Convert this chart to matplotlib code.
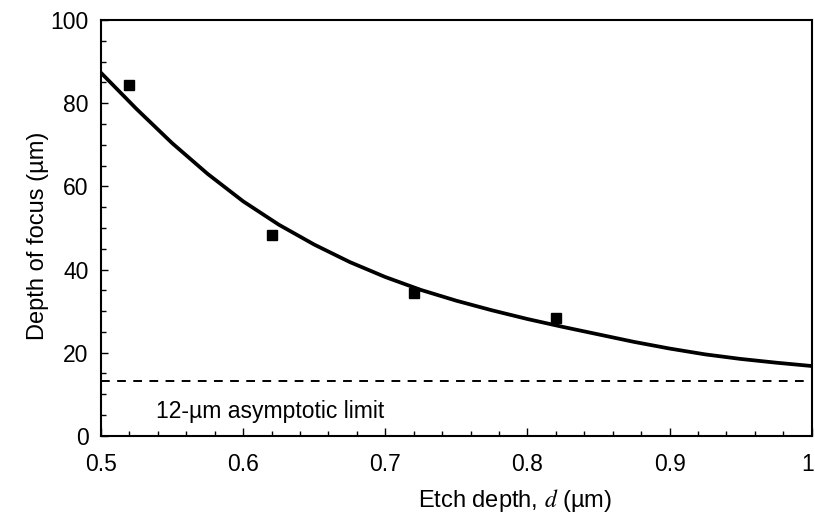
import matplotlib
matplotlib.use("Agg")
import matplotlib.pyplot as plt
from matplotlib.ticker import MultipleLocator
from matplotlib.transforms import ScaledTranslation

plt.rcParams['font.family'] = ['Liberation Sans', 'DejaVu Sans']
plt.rcParams['mathtext.fontset'] = 'stix'

# measured data points
meas_d = [0.52, 0.62, 0.72, 0.82]
meas_dof = [84.3, 48.3, 34.4, 28.4]

# theoretical curve
curve_d = [0.500, 0.525, 0.550, 0.575, 0.600, 0.625, 0.650, 0.675, 0.700,
           0.725, 0.750, 0.775, 0.800, 0.825, 0.850, 0.875, 0.900, 0.925,
           0.950, 0.975, 1.000]
curve_dof = [87.3, 78.6, 70.4, 63.0, 56.4, 50.8, 46.0, 41.8, 38.2,
             35.1, 32.5, 30.2, 28.1, 26.2, 24.4, 22.6, 21.0, 19.6,
             18.5, 17.6, 16.8]

asymptote = 13.3
asym_label = "12-\u00b5m asymptotic limit"

fig = plt.figure(figsize=(8.15, 5.14), dpi=100)
ax = fig.add_axes([0.124, 0.152, 0.872, 0.809])

ax.plot(curve_d, curve_dof, color='black', lw=2.7, solid_joinstyle='round')
ax.plot(meas_d, meas_dof, 's', color='black', markersize=7)
ax.axhline(asymptote, color='black', lw=1.4, ls=(0, (4.5, 3.8)))
ax.text(0.5385, 4.3, asym_label, fontsize=16.5, va='baseline', ha='left')

ax.set_xlim(0.5, 1.0)
ax.set_ylim(0, 100)
ax.set_xticks([0.5, 0.6, 0.7, 0.8, 0.9, 1.0])
ax.set_xticklabels(['0.5', '0.6', '0.7', '0.8', '0.9', '1'])
ax.set_yticks([0, 20, 40, 60, 80, 100])
ax.xaxis.set_minor_locator(MultipleLocator(0.02))
ax.yaxis.set_minor_locator(MultipleLocator(5))
ax.tick_params(which='both', direction='in', top=False, right=False,
               labelsize=16.5, width=1.0)
ax.tick_params(axis='y', which='major', length=5, pad=9)
ax.tick_params(axis='x', which='major', length=6, pad=12)
ax.tick_params(which='minor', length=3.5)
for s in ax.spines.values():
    s.set_linewidth(1.5)

# nudge the last x tick label so it stays inside the figure
last = ax.get_xticklabels()[-1]
last.set_transform(last.get_transform() + ScaledTranslation(-3 / 72, 0, fig.dpi_scale_trans))

ax.set_xlabel("Etch depth, $d$ (\u00b5m)", fontsize=17, labelpad=8)
ax.set_ylabel("Depth of focus (\u00b5m)", fontsize=17, labelpad=1)
ax.xaxis.label.set_x(0.582)
ax.yaxis.label.set_y(0.481)

fig.savefig("out.png", dpi=100)
